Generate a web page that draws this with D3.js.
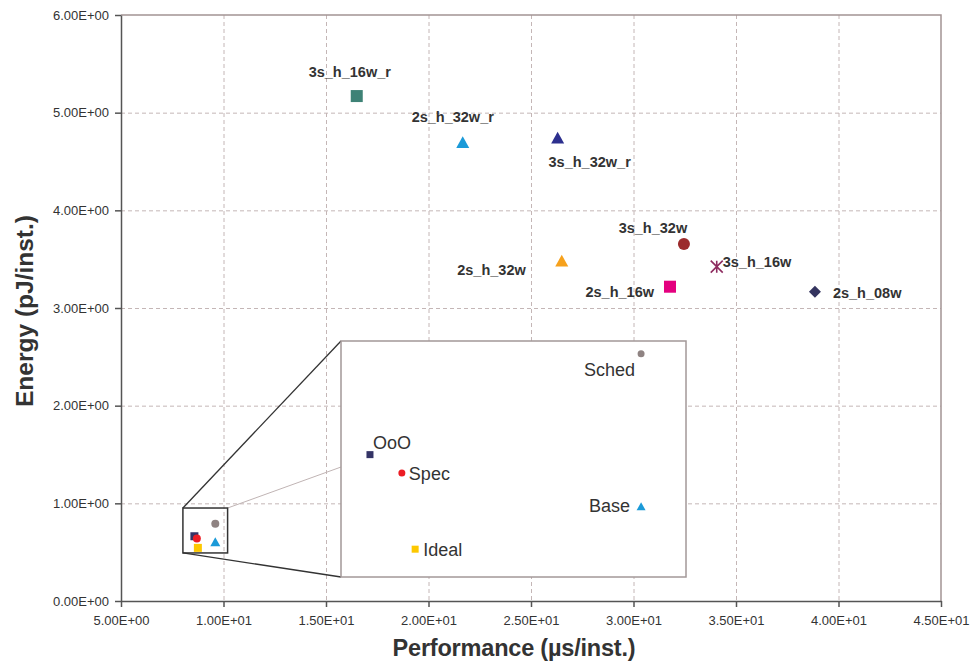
<meta charset="utf-8">
<style>
body { margin: 0; background: #fff; }
svg { font-family: "Liberation Sans", Arial, sans-serif; }
.grid line { stroke: #c4b6b6; stroke-dasharray: 4,3; }
.grid path { display: none; }
.axis path, .axis line { stroke: #555; stroke-width: 1.5; }
.axis text { font-size: 13px; fill: #333; }
.lbl { font-size: 14.5px; font-weight: bold; fill: #333; }
.ilbl { font-size: 18px; fill: #333; }
</style>
<body>
<script src="https://cdnjs.cloudflare.com/ajax/libs/d3/7.8.5/d3.min.js"></script>
<script>
// configurations (main chart)
var names  = ["3s_h_16w_r", "2s_h_32w_r", "3s_h_32w_r", "3s_h_32w", "2s_h_32w", "3s_h_16w", "2s_h_16w", "2s_h_08w"];
var perf   = [16.50, 21.67, 26.30, 32.46, 26.50, 34.06, 31.78, 38.85];
var energy = [5.17, 4.686, 4.733, 3.655, 3.474, 3.423, 3.218, 3.167];

// small cores (zoomed in the inset)
var smallNames  = ["Sched", "OoO", "Spec", "Base", "Ideal"];
var smallPerf   = [9.60, 8.58, 8.70, 9.60, 8.75];
var smallEnergy = [0.790, 0.663, 0.640, 0.597, 0.544];

var xTicks = [5, 10, 15, 20, 25, 30, 35, 40, 45];
var yTicks = [0, 1, 2, 3, 4, 5, 6];

// look of each marker
var style = {
  "3s_h_16w_r": {shape: "square",   color: "#3e8276", lbl: ["middle", -7, -24]},
  "2s_h_32w_r": {shape: "triangle", color: "#1b9ad8", lbl: ["middle", -10, -26]},
  "3s_h_32w_r": {shape: "triangle", color: "#2c2f8e", lbl: ["middle", 32, 23]},
  "3s_h_32w":   {shape: "circle",   color: "#9c2b2c", lbl: ["middle", -31, -16]},
  "2s_h_32w":   {shape: "triangle", color: "#f6a11c", lbl: ["end", -36, 8]},
  "3s_h_16w":   {shape: "star",     color: "#8e2c60", lbl: ["start", 6, -5]},
  "2s_h_16w":   {shape: "square",   color: "#e4007f", lbl: ["end", -16, 5]},
  "2s_h_08w":   {shape: "diamond",  color: "#34345f", lbl: ["start", 18, 1]},
  "Sched": {shape: "circle",   color: "#8f8382", lbl: ["end", -6, 16]},
  "OoO":   {shape: "square",   color: "#343466", lbl: ["start", 3, -12]},
  "Spec":  {shape: "circle",   color: "#ec1c24", lbl: ["start", 7, 1]},
  "Base":  {shape: "triangle", color: "#1b9ad8", lbl: ["end", -11, -1]},
  "Ideal": {shape: "square",   color: "#fdc800", lbl: ["start", 8, 0]}
};

var margin = {top: 15, right: 31, bottom: 63, left: 121},
    width = 972 - margin.left - margin.right,
    height = 664 - margin.top - margin.bottom;

var x = d3.scaleLinear().domain([5, 45]).range([0, width]);
var y = d3.scaleLinear().domain([0, 6]).range([height, 0]);

function sci(v) {
  if (v === 0) return "0.00E+00";
  var e = Math.floor(Math.log10(Math.abs(v)));
  var m = v / Math.pow(10, e);
  return m.toFixed(2) + "E" + (e < 0 ? "-" : "+") + String(Math.abs(e)).padStart(2, "0");
}

var svg = d3.select("body").append("svg")
    .attr("width", 972)
    .attr("height", 664)
  .append("g")
    .attr("transform", "translate(" + margin.left + "," + margin.top + ")");

// grid
svg.append("g").attr("class", "grid")
    .call(d3.axisBottom(x).tickValues(xTicks.slice(1, -1)).tickSize(height).tickFormat(""));
svg.append("g").attr("class", "grid")
    .call(d3.axisLeft(y).tickValues(yTicks.slice(1, -1)).tickSize(-width).tickFormat(""));

// plot border top / right
svg.append("path")
    .attr("d", "M0,0H" + width + "V" + height)
    .attr("fill", "none").attr("stroke", "#a39494").attr("stroke-width", 1.5);

// axes
svg.append("g").attr("class", "axis")
    .attr("transform", "translate(0," + height + ")")
    .call(d3.axisBottom(x).tickValues(xTicks).tickSize(6).tickSizeOuter(0).tickPadding(9).tickFormat(sci));
svg.append("g").attr("class", "axis")
    .call(d3.axisLeft(y).tickValues(yTicks).tickSize(6).tickSizeOuter(0).tickPadding(6).tickFormat(sci));

svg.append("text")
    .attr("x", width / 2 - 17).attr("y", height + 55)
    .attr("text-anchor", "middle")
    .style("font-size", "23.5px").style("font-weight", "bold").style("fill", "#333")
    .style("letter-spacing", "-0.2px")
    .text("Performance (µs/inst.)");
svg.append("text")
    .attr("transform", "translate(" + (-88) + "," + (height / 2 + 3) + ") rotate(-90)")
    .attr("text-anchor", "middle")
    .style("font-size", "24.5px").style("font-weight", "bold").style("fill", "#333")
    .text("Energy (pJ/inst.)");

function marker(g, shape, color, s) {
  if (shape === "square") {
    g.append("rect").attr("x", -s / 2).attr("y", -s / 2).attr("width", s).attr("height", s).attr("fill", color);
  } else if (shape === "circle") {
    g.append("circle").attr("r", s / 2).attr("fill", color);
  } else if (shape === "triangle") {
    var h = s * 0.9;
    g.append("path").attr("d", "M0," + (-h * 0.6) + "L" + (s / 2) + "," + (h * 0.4) + "L" + (-s / 2) + "," + (h * 0.4) + "Z").attr("fill", color);
  } else if (shape === "diamond") {
    g.append("path").attr("d", "M0," + (-s / 2) + "L" + (s / 2) + ",0L0," + (s / 2) + "L" + (-s / 2) + ",0Z").attr("fill", color);
  } else if (shape === "star") {
    var r = s / 2;
    g.append("path").attr("d", "M0," + (-r) + "V" + r + "M" + (-r) + "," + (-r) + "L" + r + "," + r + "M" + r + "," + (-r) + "L" + (-r) + "," + r)
      .attr("stroke", color).attr("stroke-width", 1.6).attr("fill", "none");
  }
}

// main points
var pts = svg.selectAll(".pt").data(names).enter().append("g")
    .attr("class", "pt")
    .attr("transform", function(d, i) { return "translate(" + x(perf[i]) + "," + y(energy[i]) + ")"; });
pts.each(function(d) { marker(d3.select(this), style[d].shape, style[d].color, style[d].shape === "triangle" ? 13 : 12); });
pts.append("text").attr("class", "lbl")
    .attr("text-anchor", function(d) { return style[d].lbl[0]; })
    .attr("x", function(d) { return style[d].lbl[1]; })
    .attr("y", function(d) { return style[d].lbl[2]; })
    .attr("dy", "0.35em")
    .text(function(d) { return d; });

// small points at main scale
svg.selectAll(".spt").data(smallNames).enter().append("g")
    .attr("class", "spt")
    .attr("transform", function(d, i) { return "translate(" + x(smallPerf[i]) + "," + y(smallEnergy[i]) + ")"; })
    .each(function(d) { marker(d3.select(this), style[d].shape, style[d].color, style[d].shape === "triangle" ? 10 : 8); });

// zoom box and inset
var box = {x0: x(8.02), x1: x(10.2), y0: y(0.952), y1: y(0.492)};
var inset = {x0: 341 - margin.left, y0: 341 - margin.top, w: 345, h: 236};

svg.append("line").attr("x1", box.x0).attr("y1", box.y0).attr("x2", inset.x0).attr("y2", inset.y0)
    .attr("stroke", "#333").attr("stroke-width", 1.3);
svg.append("line").attr("x1", box.x0).attr("y1", box.y1).attr("x2", inset.x0).attr("y2", inset.y0 + inset.h)
    .attr("stroke", "#333").attr("stroke-width", 1.3);
svg.append("line").attr("x1", box.x1).attr("y1", box.y0).attr("x2", inset.x0).attr("y2", inset.y0 + inset.h * 0.534)
    .attr("stroke", "#c0b4b4").attr("stroke-width", 1);
svg.append("rect").attr("x", box.x0).attr("y", box.y0).attr("width", box.x1 - box.x0).attr("height", box.y1 - box.y0)
    .attr("fill", "none").attr("stroke", "#333").attr("stroke-width", 1.5);

var ig = svg.append("g").attr("transform", "translate(" + inset.x0 + "," + inset.y0 + ")");
ig.append("rect").attr("width", inset.w).attr("height", inset.h)
    .attr("fill", "#fff").attr("stroke", "#a39898").attr("stroke-width", 1.5);

var ix = d3.scaleLinear().domain([8.471, 9.769]).range([0, inset.w]);
var iy = d3.scaleLinear().domain([0.509, 0.806]).range([inset.h, 0]);

var ipts = ig.selectAll(".ipt").data(smallNames).enter().append("g")
    .attr("class", "ipt")
    .attr("transform", function(d, i) { return "translate(" + ix(smallPerf[i]) + "," + iy(smallEnergy[i]) + ")"; });
ipts.each(function(d) { marker(d3.select(this), style[d].shape, style[d].color, style[d].shape === "triangle" ? 9 : 7); });
ipts.append("text").attr("class", "ilbl")
    .attr("text-anchor", function(d) { return style[d].lbl[0]; })
    .attr("x", function(d) { return style[d].lbl[1]; })
    .attr("y", function(d) { return style[d].lbl[2]; })
    .attr("dy", "0.35em")
    .text(function(d) { return d; });
</script>
</body>
